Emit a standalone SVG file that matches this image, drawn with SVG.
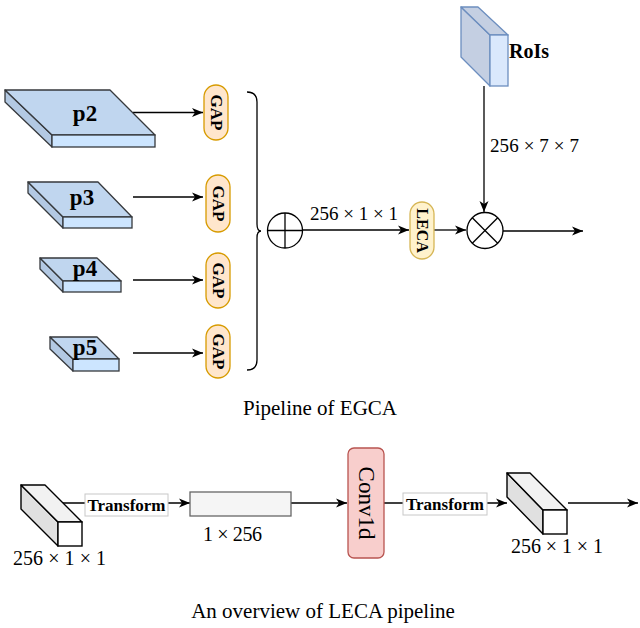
<svg xmlns="http://www.w3.org/2000/svg" width="640" height="628" viewBox="0 0 640 628">
<defs>
<marker id="arr" markerUnits="userSpaceOnUse" markerWidth="12" markerHeight="10" refX="11" refY="5" orient="auto">
<path d="M0,0.5 L11,5 L0,9.5 L3,5 z" fill="#000"/>
</marker>
</defs>
<style>
.ln{stroke:#000;stroke-width:1.3;fill:none}
.ar{stroke:#000;stroke-width:1.3;fill:none;marker-end:url(#arr)}
.ptop{fill:#c0d6ef;stroke:#36393d;stroke-width:1.3;stroke-linejoin:round}
.pside{fill:#b3c9e3;stroke:#36393d;stroke-width:1.3;stroke-linejoin:round}
.pfront{fill:#cce5ff;stroke:#36393d;stroke-width:1.3}
.ptxt{font-family:"Liberation Serif",serif;font-weight:bold;font-size:23px;text-anchor:middle;fill:#000}
.gap{fill:#ffe6cc;stroke:#d79b00;stroke-width:1.3}
.leca{fill:#fff2cc;stroke:#d6b656;stroke-width:1.3}
.vt{font-family:"Liberation Serif",serif;font-weight:bold;font-size:17px;text-anchor:middle;dominant-baseline:central;fill:#000}
.math{font-family:"Liberation Serif",serif;font-size:19px;fill:#000}
.title{font-family:"Liberation Serif",serif;font-size:21px;text-anchor:middle;fill:#000}
.ctop{fill:#f2f2f2;stroke:#000;stroke-width:1.4;stroke-linejoin:round}
.cside{fill:#e0e0e0;stroke:#000;stroke-width:1.4;stroke-linejoin:round}
.cfront{fill:#ffffff;stroke:#000;stroke-width:1.4}
.tlab{fill:#fff;stroke:#c8c8c8;stroke-width:1}
.ttxt{font-family:"Liberation Serif",serif;font-weight:bold;font-size:17px;text-anchor:middle;fill:#000}
</style>
<rect width="640" height="628" fill="#fff"/>

<g id="connectors">
<line class="ar" x1="133" y1="112.5" x2="203" y2="112.5"/>
<line class="ar" x1="133" y1="197" x2="203" y2="197"/>
<line class="ar" x1="133" y1="280" x2="203" y2="280"/>
<line class="ar" x1="133" y1="353" x2="203" y2="353"/>
<path class="ln" d="M247,92 Q257,92 257,102 L257,224 Q257,231 261,231 Q257,231 257,238 L257,360 Q257,370 247,370"/>
<line class="ar" x1="303" y1="230" x2="409" y2="230"/>
<line class="ar" x1="434" y1="230" x2="466" y2="230"/>
<line class="ar" x1="503" y1="231" x2="583" y2="231"/>
<line class="ar" x1="484" y1="86" x2="484" y2="212"/>
<line class="ar" x1="63" y1="503" x2="190" y2="503"/>
<line class="ar" x1="291" y1="503" x2="347" y2="503"/>
<line class="ar" x1="384" y1="503" x2="507" y2="503"/>
<line class="ar" x1="568" y1="503" x2="638" y2="503"/>
</g>

<g id="p2">
<polygon class="pside" points="5,90 52,135 52,147 5,102"/>
<polygon class="ptop" points="5,90 110,90 155,135 52,135"/>
<rect class="pfront" x="52" y="135" width="103" height="12"/>
<text class="ptxt" x="85" y="121">p2</text>
</g>
<g id="p3">
<polygon class="pside" points="28,182 63,217 63,228 28,193"/>
<polygon class="ptop" points="28,182 98,182 132,217 63,217"/>
<rect class="pfront" x="63" y="217" width="69" height="11"/>
<text class="ptxt" x="82" y="205">p3</text>
</g>
<g id="p4">
<polygon class="pside" points="40,258 63,281 63,292 40,269"/>
<polygon class="ptop" points="40,258 97,258 121,281 63,281"/>
<rect class="pfront" x="63" y="281" width="58" height="11"/>
<text class="ptxt" x="85" y="276">p4</text>
</g>
<g id="p5">
<polygon class="pside" points="50,337 73,359 73,371 50,349"/>
<polygon class="ptop" points="50,337 97,337 119,359 73,359"/>
<rect class="pfront" x="73" y="359" width="46" height="12"/>
<text class="ptxt" x="85" y="355">p5</text>
</g>

<g id="gap1">
<rect class="gap" x="204" y="85" width="24" height="55" rx="12"/>
<text class="vt" transform="translate(216,112.5) rotate(90)">GAP</text>
</g>
<g id="gap2">
<rect class="gap" x="206" y="175" width="24" height="57" rx="12"/>
<text class="vt" transform="translate(218,203.5) rotate(90)">GAP</text>
</g>
<g id="gap3">
<rect class="gap" x="206" y="253" width="24" height="55" rx="12"/>
<text class="vt" transform="translate(218,280.5) rotate(90)">GAP</text>
</g>
<g id="gap4">
<rect class="gap" x="206" y="325" width="24" height="53" rx="12"/>
<text class="vt" transform="translate(218,351.5) rotate(90)">GAP</text>
</g>

<g id="sum">
<circle cx="285" cy="230.5" r="17.5" fill="#fff" stroke="#000" stroke-width="1.3"/>
<line class="ln" x1="267.5" y1="230.5" x2="302.5" y2="230.5"/>
<line class="ln" x1="285" y1="213" x2="285" y2="248"/>
</g>
<text class="math" x="310" y="220" textLength="88" lengthAdjust="spacing">256 × 1 × 1</text>

<g id="leca">
<rect class="leca" x="410" y="202" width="24" height="57" rx="12"/>
<text class="vt" transform="translate(422,230.5) rotate(90)" style="font-size:16px">LECA</text>
</g>

<g id="mul">
<circle cx="485" cy="230.5" r="18" fill="#fff" stroke="#000" stroke-width="1.3"/>
<line class="ln" x1="472.3" y1="217.8" x2="497.7" y2="243.2"/>
<line class="ln" x1="497.7" y1="217.8" x2="472.3" y2="243.2"/>
</g>

<g id="rois">
<polygon points="461,7 490,35 490,86 461,57" fill="#c4cfe2" stroke="#6c8ebf" stroke-width="1.3" stroke-linejoin="round"/>
<polygon points="461,7 478,7 508,35 490,35" fill="#c4cfe2" stroke="#6c8ebf" stroke-width="1.3" stroke-linejoin="round"/>
<rect x="490" y="35" width="18" height="51" fill="#dae8fc" stroke="#6c8ebf" stroke-width="1.3"/>
<text x="509" y="58" font-family="Liberation Serif, serif" font-weight="bold" font-size="20" fill="#000">RoIs</text>
</g>
<text class="math" x="490" y="152" textLength="89" lengthAdjust="spacing">256 × 7 × 7</text>

<text class="title" x="320" y="415">Pipeline of EGCA</text>

<g id="cube1">
<polygon class="cside" points="21,485 58,522 58,546 21,509"/>
<polygon class="ctop" points="21,485 45,485 82,522 58,522"/>
<rect class="cfront" x="58" y="522" width="24" height="24"/>
</g>
<text class="math" x="13" y="565" style="font-size:20px" textLength="93" lengthAdjust="spacing">256 × 1 × 1</text>

<g id="transform1">
<rect class="tlab" x="85" y="494" width="83" height="22"/>
<text class="ttxt" x="126.5" y="511">Transform</text>
</g>

<g id="vec">
<rect x="190" y="492" width="101" height="24" fill="#f5f5f5" stroke="#666" stroke-width="1.3"/>
</g>
<text class="math" x="203" y="541" style="font-size:20px" textLength="59" lengthAdjust="spacing">1 × 256</text>

<g id="conv1d">
<rect x="348" y="448" width="36" height="110" rx="6" fill="#f8cecc" stroke="#b85450" stroke-width="1.3"/>
<text transform="translate(366,503) rotate(90)" font-family="Liberation Serif, serif" font-size="23" text-anchor="middle" dominant-baseline="central" fill="#000">Conv1d</text>
</g>

<g id="transform2">
<rect class="tlab" x="403" y="493" width="84" height="22"/>
<text class="ttxt" x="445" y="510">Transform</text>
</g>

<g id="cube2">
<polygon class="cside" points="507,473 543,510 543,534 507,497"/>
<polygon class="ctop" points="507,473 530,473 567,510 543,510"/>
<rect class="cfront" x="543" y="510" width="24" height="24"/>
</g>
<text class="math" x="511" y="553" style="font-size:20px" textLength="92" lengthAdjust="spacing">256 × 1 × 1</text>

<text class="title" x="323" y="618">An overview of LECA pipeline</text>
</svg>
